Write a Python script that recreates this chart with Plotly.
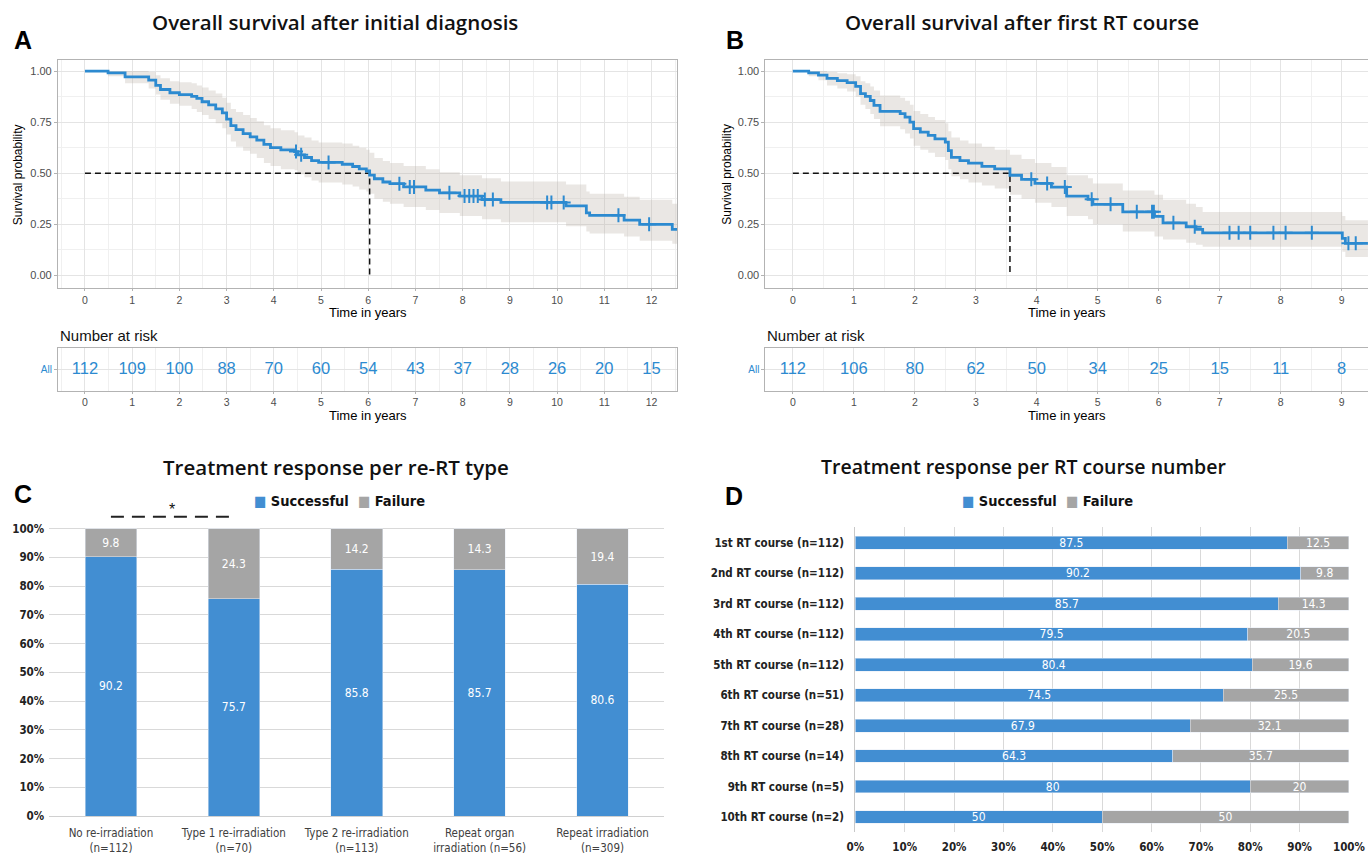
import numpy as np
import plotly.graph_objects as go

# Figure canvas (slightly larger than the 1368x855 window; the capture shrinks it ~2%)
WF, HF = 1385, 863


def X(t):
    """target picture x (px) -> figure px"""
    return (t - 8) / 0.982


def Y(t):
    """target picture y (px) -> figure px"""
    return t / 0.9906


def px(t):
    return X(t) / WF


def py(t):
    return 1 - Y(t) / HF


# ---------------- DATA ----------------
# Panel A: overall survival after initial diagnosis (KM step points)
a_time = [0, 0.49, 0.85, 1.35, 1.5, 1.6, 1.8, 2.0, 2.26, 2.37, 2.48, 2.62, 2.77, 2.91, 3.0, 3.09, 3.2,
          3.35, 3.5, 3.64, 3.79, 3.93, 4.15, 4.44, 4.51, 4.65, 4.8, 4.95, 5.45, 5.67, 5.81, 5.96, 6.03,
          6.13, 6.31, 6.46, 6.75, 7.22, 7.51, 7.94, 8.41, 8.81, 10.19, 10.62, 10.69, 11.42, 11.75, 12.44]
a_surv = [1.0, 0.991, 0.972, 0.956, 0.93, 0.91, 0.894, 0.885, 0.876, 0.866, 0.85, 0.835, 0.815, 0.795, 0.765,
          0.733, 0.713, 0.694, 0.678, 0.662, 0.641, 0.625, 0.614, 0.606, 0.59, 0.577, 0.562, 0.553, 0.544,
          0.533, 0.521, 0.511, 0.491, 0.473, 0.457, 0.449, 0.433, 0.417, 0.404, 0.388, 0.371, 0.357, 0.34,
          0.306, 0.294, 0.27, 0.25, 0.225]
a_lower = [1.0, 0.975, 0.94, 0.915, 0.885, 0.86, 0.84, 0.83, 0.815, 0.80, 0.785, 0.765, 0.745, 0.72, 0.69,
           0.655, 0.63, 0.61, 0.595, 0.575, 0.55, 0.535, 0.52, 0.515, 0.495, 0.48, 0.465, 0.455, 0.445,
           0.435, 0.42, 0.41, 0.40, 0.375, 0.36, 0.35, 0.335, 0.32, 0.305, 0.29, 0.275, 0.26, 0.24,
           0.215, 0.205, 0.19, 0.17, 0.155]
a_upper = [1.0, 1.0, 1.0, 0.995, 0.98, 0.965, 0.95, 0.945, 0.94, 0.93, 0.92, 0.905, 0.89, 0.87, 0.845,
           0.815, 0.80, 0.785, 0.77, 0.755, 0.735, 0.72, 0.71, 0.70, 0.685, 0.675, 0.66, 0.65, 0.645,
           0.635, 0.625, 0.615, 0.60, 0.575, 0.56, 0.55, 0.535, 0.52, 0.505, 0.49, 0.475, 0.46, 0.445,
           0.41, 0.40, 0.385, 0.37, 0.35]
a_censor = [4.47, 4.58, 5.16, 6.66, 6.88, 6.97, 7.72, 8.04, 8.14, 8.23, 8.32, 8.47, 8.64, 9.79, 9.88,
            10.14, 11.3, 11.95]
a_median = 6.03
a_end = 12.57
a_risk_time = [0, 1, 2, 3, 4, 5, 6, 7, 8, 9, 10, 11, 12]
a_risk_n = [112, 109, 100, 88, 70, 60, 54, 43, 37, 28, 26, 20, 15]

# Panel B: overall survival after first RT course
b_time = [0, 0.26, 0.42, 0.56, 0.73, 0.89, 1.03, 1.11, 1.19, 1.27, 1.33, 1.43, 1.76, 1.84, 1.92, 1.98,
          2.09, 2.22, 2.33, 2.5, 2.55, 2.6, 2.74, 2.88, 3.1, 3.31, 3.56, 3.75, 3.97, 4.24, 4.49, 4.84,
          4.92, 5.41, 5.93, 6.07, 6.45, 6.61, 6.72, 9.01, 9.06]
b_surv = [1.0, 0.991, 0.98, 0.964, 0.953, 0.944, 0.925, 0.89, 0.876, 0.856, 0.832, 0.803, 0.792, 0.775,
          0.75, 0.718, 0.701, 0.685, 0.668, 0.652, 0.611, 0.578, 0.562, 0.549, 0.534, 0.521, 0.49, 0.47,
          0.45, 0.432, 0.388, 0.372, 0.348, 0.311, 0.289, 0.257, 0.238, 0.225, 0.208, 0.181, 0.157]
b_lower = [1.0, 0.975, 0.955, 0.93, 0.915, 0.90, 0.875, 0.835, 0.815, 0.79, 0.765, 0.73, 0.715, 0.695,
           0.67, 0.635, 0.615, 0.60, 0.58, 0.565, 0.52, 0.485, 0.47, 0.455, 0.44, 0.425, 0.395, 0.375,
           0.355, 0.335, 0.29, 0.275, 0.25, 0.215, 0.19, 0.175, 0.16, 0.15, 0.14, 0.115, 0.09]
b_upper = [1.0, 1.0, 1.0, 0.995, 0.99, 0.985, 0.975, 0.95, 0.94, 0.925, 0.905, 0.88, 0.87, 0.855, 0.835,
           0.805, 0.79, 0.775, 0.76, 0.745, 0.705, 0.675, 0.66, 0.645, 0.63, 0.615, 0.59, 0.57, 0.55,
           0.53, 0.49, 0.475, 0.45, 0.415, 0.395, 0.37, 0.35, 0.335, 0.31, 0.29, 0.27]
b_censor = [3.91, 4.17, 4.46, 4.9, 5.21, 5.64, 5.89, 5.92, 6.24, 6.59, 7.16, 7.31, 7.5, 7.88, 8.08, 8.51,
            9.11, 9.23]
b_median = 3.56
b_end = 9.5
b_risk_time = [0, 1, 2, 3, 4, 5, 6, 7, 8, 9]
b_risk_n = [112, 106, 80, 62, 50, 34, 25, 15, 11, 8]

# Panel C: treatment response per re-RT type
c_categories = ["No re-irradiation<br>(n=112)", "Type 1 re-irradiation<br>(n=70)",
                "Type 2 re-irradiation<br>(n=113)", "Repeat organ<br>irradiation (n=56)",
                "Repeat irradiation<br>(n=309)"]
c_success = [90.2, 75.7, 85.8, 85.7, 80.6]
c_failure = [9.8, 24.3, 14.2, 14.3, 19.4]
pct_ticks = [0, 10, 20, 30, 40, 50, 60, 70, 80, 90, 100]

# Panel D: treatment response per RT course number
d_categories = ["1st RT course (n=112)", "2nd RT course (n=112)", "3rd RT course (n=112)",
                "4th RT course (n=112)", "5th RT course (n=112)", "6th RT course (n=51)",
                "7th RT course (n=28)", "8th RT course (n=14)", "9th RT course (n=5)",
                "10th RT course (n=2)"]
d_success = [87.5, 90.2, 85.7, 79.5, 80.4, 74.5, 67.9, 64.3, 80, 50]
d_failure = [12.5, 9.8, 14.3, 20.5, 19.6, 25.5, 32.1, 35.7, 20, 50]

# ---------------- STYLE ----------------
KM_BLUE = "#2C8AD0"
BAND = "rgba(190,180,170,0.32)"
BAR_BLUE = "#428ED2"
BAR_GRAY = "#A5A5A5"
KM_FONT = "Liberation Sans, Arial, sans-serif"
XL_FONT = "Liberation Sans Narrow, DejaVu Sans Condensed, Liberation Sans, sans-serif"
TITLE_FONT = "Open Sans, sans-serif"

fig = go.Figure()


def add_km(xa, ya, times, surv, lo, hi, cens, median, end):
    t = list(times) + [end]
    s = list(surv) + [surv[-1]]
    lo2 = list(lo) + [lo[-1]]
    hi2 = list(hi) + [hi[-1]]
    fig.add_trace(go.Scatter(x=t, y=lo2, xaxis=xa, yaxis=ya, mode="lines",
                             line=dict(width=0, shape="hv"), hoverinfo="skip", showlegend=False))
    fig.add_trace(go.Scatter(x=t, y=hi2, xaxis=xa, yaxis=ya, mode="lines",
                             line=dict(width=0, shape="hv"), fill="tonexty", fillcolor=BAND,
                             hoverinfo="skip", showlegend=False))
    fig.add_trace(go.Scatter(x=[0, median, median], y=[0.5, 0.5, 0], xaxis=xa, yaxis=ya, mode="lines",
                             line=dict(color="#111111", width=1.5, dash="6px,4px"), showlegend=False))
    fig.add_trace(go.Scatter(x=t, y=s, xaxis=xa, yaxis=ya, mode="lines",
                             line=dict(color=KM_BLUE, width=2.8, shape="hv"), showlegend=False))
    idx = np.searchsorted(np.array(times), np.array(cens), side="right") - 1
    cy = [surv[i] for i in idx]
    fig.add_trace(go.Scatter(x=cens, y=cy, xaxis=xa, yaxis=ya, mode="markers",
                             marker=dict(symbol="cross-thin-open", size=10, color=KM_BLUE,
                                         line=dict(color=KM_BLUE, width=2)),
                             showlegend=False))


def add_risk(xa, ya, times, nums):
    fig.add_trace(go.Scatter(x=times, y=[0.5] * len(times), xaxis=xa, yaxis=ya, mode="text",
                             text=[str(n) for n in nums],
                             textfont=dict(family=KM_FONT, size=16.5, color=KM_BLUE),
                             showlegend=False, hoverinfo="skip"))


add_km("x", "y", a_time, a_surv, a_lower, a_upper, a_censor, a_median, a_end)
add_risk("x2", "y2", a_risk_time, a_risk_n)
add_km("x3", "y3", b_time, b_surv, b_lower, b_upper, b_censor, b_median, b_end)
add_risk("x4", "y4", b_risk_time, b_risk_n)

bar_txt = dict(color="white", size=12, family=XL_FONT)
# Panel C bars
fig.add_trace(go.Bar(x=c_categories, y=c_success, xaxis="x5", yaxis="y5", marker_color=BAR_BLUE,
                     text=[f"{v:g}" for v in c_success], textposition="inside", textangle=0,
                     insidetextanchor="middle", textfont=bar_txt, showlegend=False))
fig.add_trace(go.Bar(x=c_categories, y=c_failure, xaxis="x5", yaxis="y5", marker_color=BAR_GRAY,
                     text=[f"{v:g}" for v in c_failure], textposition="inside", textangle=0,
                     insidetextanchor="middle", textfont=bar_txt, showlegend=False))
# Panel D bars
fig.add_trace(go.Bar(y=d_categories, x=d_success, xaxis="x6", yaxis="y6", orientation="h",
                     marker_color=BAR_BLUE, text=[f"{v:g}" for v in d_success], textposition="inside",
                     textangle=0, insidetextanchor="middle", textfont=bar_txt, showlegend=False))
fig.add_trace(go.Bar(y=d_categories, x=d_failure, xaxis="x6", yaxis="y6", orientation="h",
                     marker_color=BAR_GRAY, text=[f"{v:g}" for v in d_failure], textposition="inside",
                     textangle=0, insidetextanchor="middle", textfont=bar_txt, showlegend=False))

# ---------------- AXES ----------------
GRID = "#E4E4E4"
MINOR = "#F0F0F0"
BORDER = "#B3B3B3"
tickf = dict(family=KM_FONT, size=11, color="#4D4D4D")
tickfx = dict(family=KM_FONT, size=10.5, color="#4D4D4D")


def km_x(domain, rng):
    return dict(domain=domain, range=rng, tick0=0, dtick=1, showgrid=True, gridcolor=GRID,
                minor=dict(dtick=0.5, showgrid=True, gridcolor=MINOR, ticks=""),
                showline=True, mirror=True, linecolor=BORDER, ticks="outside", ticklen=2,
                tickcolor=BORDER, tickfont=tickfx, zeroline=False)


def km_y(domain, anchor, rng, mirror=True):
    return dict(domain=domain, range=rng, tickvals=[0, 0.25, 0.5, 0.75, 1.0],
                tickformat=".2f", showgrid=True, gridcolor=GRID,
                minor=dict(tickvals=[0.125, 0.375, 0.625, 0.875], showgrid=True, gridcolor=MINOR,
                           ticks=""),
                showline=True, mirror=mirror, linecolor=BORDER, ticks="outside", ticklen=3,
                tickcolor=BORDER, tickfont=tickf, zeroline=False, anchor=anchor)


def risk_y(domain, anchor, mirror=True):
    return dict(domain=domain, range=[0, 1], tickvals=[0.5], ticktext=["All"], showgrid=True,
                gridcolor=GRID, showline=True, mirror=mirror, linecolor=BORDER, ticks="outside",
                ticklen=3, tickcolor=BORDER, tickfont=dict(family=KM_FONT, size=10, color=KM_BLUE),
                zeroline=False, anchor=anchor)


# target picture geometry (pixels in the final picture)
A_L, A_R, A_ZERO, A_PER_YEAR = 57, 677, 84, 47.25
B_L, B_R, B_ZERO = 765, 1368, 792.5
KM_T, KM_B, Y1, Y0 = 60, 288, 71, 275
RISK_T, RISK_B = 348, 390

a_rng = [(A_L - A_ZERO) / A_PER_YEAR, (A_R - A_ZERO) / A_PER_YEAR]
b_rng = [-0.45, 9.43]
km_rng = [(Y0 - KM_B) / (Y0 - Y1), (Y0 - KM_T) / (Y0 - Y1)]

a_dom = [px(A_L), px(A_R)]
b_dom = [px(B_L), min(1.0, px(B_R))]
km_ydom = [py(KM_B), py(KM_T)]
risk_ydom = [py(RISK_B), py(RISK_T)]

C_L, C_R, C_Y0, C_Y100 = 48.5, 663.5, 815, 528
C_TOP = 105  # percent value at top of panel C plotting area (room for significance bar)
c_pp = (C_Y0 - C_Y100) / 100
D_L, D_R, D_T, D_B = 855, 1349, 526.8, 831.2

layout_axes = dict(
    xaxis=dict(km_x(a_dom, a_rng), anchor="y"),
    yaxis=km_y(km_ydom, "x", km_rng),
    xaxis2=dict(km_x(a_dom, a_rng), anchor="y2"),
    yaxis2=risk_y(risk_ydom, "x2"),
    xaxis3=dict(km_x(b_dom, b_rng), anchor="y3"),
    yaxis3=km_y(km_ydom, "x3", km_rng, mirror=False),
    xaxis4=dict(km_x(b_dom, b_rng), anchor="y4"),
    yaxis4=risk_y(risk_ydom, "x4", mirror=False),
    xaxis5=dict(domain=[px(C_L), px(C_R)], anchor="y5", type="category", showgrid=False,
                showline=True, linecolor="#D0D0D0", ticks="outside", ticklen=6,
                tickcolor="rgba(0,0,0,0)",
                tickfont=dict(family=XL_FONT, size=11.5, color="#404040")),
    yaxis5=dict(domain=[py(C_Y0), py(C_Y0 - C_TOP * c_pp)], anchor="x5", range=[0, C_TOP],
                tickvals=pct_ticks, ticktext=[f"{v}%" for v in pct_ticks],
                showgrid=True, gridcolor="#D9D9D9", zeroline=False, showline=False, ticks="outside",
                ticklen=2, tickcolor="rgba(0,0,0,0)",
                tickfont=dict(family=XL_FONT, size=11.5, color="#222222", weight="bold")),
    xaxis6=dict(domain=[px(D_L), px(D_R)], anchor="y6", range=[0, 100],
                tickvals=pct_ticks, ticktext=[f"{v}%" for v in pct_ticks],
                showgrid=True, gridcolor="#D9D9D9", zeroline=False, showline=False, ticks="outside",
                ticklen=4, tickcolor="rgba(0,0,0,0)",
                tickfont=dict(family=XL_FONT, size=11.5, color="#222222", weight="bold")),
    yaxis6=dict(domain=[py(D_B), py(D_T)], anchor="x6", type="category", autorange="reversed",
                showgrid=False, showline=True, linecolor="#C8C8C8", ticks="outside", ticklen=8,
                tickcolor="rgba(0,0,0,0)",
                tickfont=dict(family=XL_FONT, size=11.5, color="#222222", weight="bold")),
)

# ---------------- ANNOTATIONS ----------------
ann = []


def text(x, y, s, size, family=KM_FONT, color="#000000", weight="normal", xanchor="center",
         angle=0):
    ann.append(dict(x=px(x), y=py(y), xref="paper", yref="paper", text=s, showarrow=False,
                    xanchor=xanchor, yanchor="middle", textangle=angle,
                    font=dict(family=family, size=size, color=color, weight=weight)))


text(334, 22, "Overall survival after initial diagnosis", 20.5, TITLE_FONT, "#111111", 600)
text(1022, 22, "Overall survival after first RT course", 20.5, TITLE_FONT, "#111111", 600)
text(22, 40, "A", 25, KM_FONT, "#000000", "bold")
text(735, 40, "B", 25, KM_FONT, "#000000", "bold")
text(17, (KM_T + KM_B) / 2, "Survival probability", 12, angle=-90)
text(727, (KM_T + KM_B) / 2, "Survival probability", 12, angle=-90)
text((A_L + A_R) / 2, 312, "Time in years", 13)
text(1067, 312, "Time in years", 13)
text((A_L + A_R) / 2, 415, "Time in years", 13)
text(1067, 415, "Time in years", 13)
text(A_L, 335, "Number at risk", 15, xanchor="left", color="#111111")
text(B_L, 335, "Number at risk", 15, xanchor="left", color="#111111")

text(335, 466, "Treatment response per re-RT type", 20.5, TITLE_FONT, "#111111", 600)
text(1023, 466, "Treatment response per RT course number", 19.5, TITLE_FONT, "#111111", 600)
text(22, 493, "C", 25, KM_FONT, "#000000", "bold")
text(734, 495, "D", 25, KM_FONT, "#000000", "bold")

leg = (f'<span style="color:{BAR_BLUE}">■</span> Successful  '
       f'<span style="color:{BAR_GRAY}">■</span> Failure')
text(339, 500, leg, 14.5, XL_FONT, "#111111", "bold")
text(1047, 500, leg, 14.5, XL_FONT, "#111111", "bold")

# significance marker between first two categories of panel C
ann.append(dict(x=0.5, y=py(509), xref="x5", yref="paper", text="*", showarrow=False,
                yanchor="middle", font=dict(family=KM_FONT, size=16, color="#111111")))
shapes = [dict(type="line", xref="x5", yref="y5", x0=0, x1=1, y0=(C_Y0 - 516) / c_pp,
               y1=(C_Y0 - 516) / c_pp, line=dict(color="#222222", width=2, dash="13px,8px"))]

fig.update_layout(
    width=WF, height=HF, autosize=False,
    margin=dict(l=0, r=0, t=0, b=0),
    paper_bgcolor="white", plot_bgcolor="white",
    barmode="stack", bargap=0.58,
    uniformtext=dict(minsize=11, mode="show"),
    annotations=ann, shapes=shapes,
    showlegend=False,
    **layout_axes,
)

fig.write_html("out.html", config={"displayModeBar": False},
               post_script="document.body.style.margin='0';document.body.style.overflow='hidden';")
